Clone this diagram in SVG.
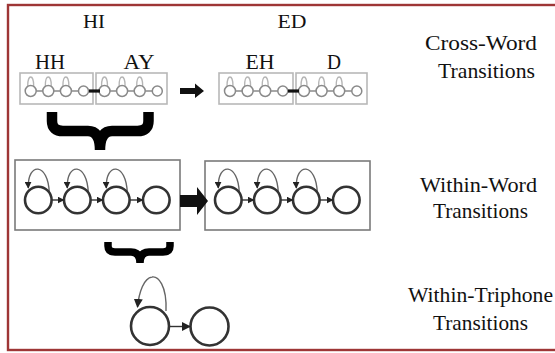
<svg xmlns="http://www.w3.org/2000/svg" xmlns:xlink="http://www.w3.org/1999/xlink" width="555" height="353" viewBox="0 0 555 353">
  <style>
    .lbl { fill: #111; text-anchor: middle; font-family: "Liberation Serif", "Times New Roman", serif; }
    .phone { font-size: 20px; }
    .word { font-size: 19px; }
    .side { font-size: 21px; }
    .minibox { fill: none; stroke: #b8b8b8; stroke-width: 1.6; }
    .minicirc { fill: none; stroke: #8a8a8a; stroke-width: 1.5; }
    .miniloop { fill: none; stroke: #b5b5b5; stroke-width: 1.3; }
    .minilink { stroke: #777; stroke-width: 1.3; }
    .hmmbox { fill: none; stroke: #7a7a7a; stroke-width: 1.6; }
    .state { fill: none; stroke: #333; stroke-width: 2.6; }
    .self { fill: none; stroke: #666; stroke-width: 1.4; }
    .link { stroke: #333; stroke-width: 1.4; }
    .brace { fill: none; stroke: #000; stroke-linejoin: round; }
  </style>
  <defs>
    <marker id="tip" viewBox="0 0 10 10" refX="9" refY="5" markerWidth="7" markerHeight="7" markerUnits="userSpaceOnUse" orient="auto">
      <path d="M0 0 L10 5 L0 10 Z" fill="#222"/>
    </marker>
    <marker id="tipL" viewBox="0 0 10 10" refX="9" refY="5" markerWidth="9" markerHeight="9" markerUnits="userSpaceOnUse" orient="auto">
      <path d="M0 0 L10 5 L0 10 Z" fill="#222"/>
    </marker>
    <!-- four-state mini phone model, first state centred at origin -->
    <g id="mini">
      <path class="miniloop" d="M3 -5 C3 -17, -3 -17, -3 -5 M20.6 -5 C20.6 -17, 14.6 -17, 14.6 -5 M38.2 -5 C38.2 -17, 32.2 -17, 32.2 -5"/>
      <line class="minilink" x1="5.5" y1="0" x2="12.1" y2="0"/>
      <line class="minilink" x1="23.1" y1="0" x2="29.7" y2="0"/>
      <line class="minilink" x1="40.7" y1="0" x2="47.8" y2="0"/>
      <circle class="minicirc" cx="0" cy="0" r="5.5"/>
      <circle class="minicirc" cx="17.6" cy="0" r="5.5"/>
      <circle class="minicirc" cx="35.2" cy="0" r="5.5"/>
      <circle class="minicirc" cx="52.8" cy="0" r="5"/>
    </g>
    <!-- emitting state with self-loop, centred at origin -->
    <g id="loopstate">
      <path class="self" d="M11 -7 C10 -38, -11 -38, -10 -12" marker-end="url(#tip)"/>
      <circle class="state" cx="0" cy="0" r="13.3"/>
    </g>
    <!-- four-state word-internal model; first state centred at origin -->
    <g id="hmm">
      <use xlink:href="#loopstate" x="0" y="0"/>
      <use xlink:href="#loopstate" x="39" y="0"/>
      <use xlink:href="#loopstate" x="78" y="0"/>
      <circle class="state" cx="118" cy="0" r="13.3"/>
      <line class="link" x1="13.5" y1="0" x2="25.5" y2="0" marker-end="url(#tip)"/>
      <line class="link" x1="52.5" y1="0" x2="64.5" y2="0" marker-end="url(#tip)"/>
      <line class="link" x1="91.5" y1="0" x2="104.5" y2="0" marker-end="url(#tip)"/>
    </g>
  </defs>

  <rect width="555" height="353" fill="#fff"/>
  <!-- frame -->
  <rect x="8" y="5" width="560" height="345" fill="none" stroke="#9e3636" stroke-width="2.4"/>

  <!-- cross-word level -->
  <g id="word-hi">
    <text class="lbl word" x="94" y="28" textLength="22" lengthAdjust="spacingAndGlyphs">HI</text>
    <text class="lbl phone" x="50" y="69" textLength="30" lengthAdjust="spacingAndGlyphs">HH</text>
    <text class="lbl phone" x="139" y="69" textLength="31" lengthAdjust="spacingAndGlyphs">AY</text>
    <rect class="minibox" x="20" y="73" width="73" height="31"/>
    <rect class="minibox" x="96" y="73" width="71" height="31"/>
    <use xlink:href="#mini" x="30.7" y="91"/>
    <use xlink:href="#mini" x="104.5" y="91"/>
    <line x1="89" y1="91" x2="100" y2="91" stroke="#111" stroke-width="3.2"/>
  </g>
  <g id="word-ed">
    <text class="lbl word" x="292" y="28" textLength="29" lengthAdjust="spacingAndGlyphs">ED</text>
    <text class="lbl phone" x="260" y="69" textLength="29" lengthAdjust="spacingAndGlyphs">EH</text>
    <text class="lbl phone" x="334" y="69" textLength="14" lengthAdjust="spacingAndGlyphs">D</text>
    <rect class="minibox" x="219" y="73" width="74" height="31"/>
    <rect class="minibox" x="296" y="73" width="71" height="31"/>
    <use xlink:href="#mini" x="230" y="91"/>
    <use xlink:href="#mini" x="304" y="91"/>
    <line x1="288" y1="91" x2="299" y2="91" stroke="#111" stroke-width="3.2"/>
  </g>

  <!-- within-word level -->
  <g id="hmm-hi">
    <rect class="hmmbox" x="15" y="160" width="165" height="70"/>
    <use xlink:href="#hmm" x="38.3" y="200"/>
  </g>
  <g id="hmm-ed">
    <rect class="hmmbox" x="205" y="161" width="165" height="69"/>
    <use xlink:href="#hmm" x="228.3" y="200"/>
  </g>

  <!-- within-triphone level -->
  <g id="triphone">
    <path class="self" d="M166 311 C167 285, 158 276, 152 277 C144 278, 139 292, 137.5 307" marker-end="url(#tipL)"/>
    <circle class="state" cx="150" cy="326" r="19"/>
    <circle class="state" cx="209.5" cy="326.5" r="19"/>
    <line class="link" x1="169" y1="326.5" x2="190" y2="326.5" marker-end="url(#tipL)"/>
  </g>

  <!-- level labels -->
  <g id="levels">
    <text class="lbl side" x="481" y="50" textLength="112" lengthAdjust="spacingAndGlyphs">Cross-Word</text>
    <text class="lbl side" x="486.5" y="78" textLength="97" lengthAdjust="spacingAndGlyphs">Transitions</text>
    <text class="lbl side" x="478.5" y="192" textLength="117" lengthAdjust="spacingAndGlyphs">Within-Word</text>
    <text class="lbl side" x="480.5" y="218" textLength="95" lengthAdjust="spacingAndGlyphs">Transitions</text>
    <text class="lbl side" x="480.5" y="302" textLength="145" lengthAdjust="spacingAndGlyphs">Within-Triphone</text>
    <text class="lbl side" x="480.5" y="330" textLength="95" lengthAdjust="spacingAndGlyphs">Transitions</text>
  </g>

  <!-- connectors between levels -->
  <g id="connectors">
    <polygon points="180,88 195,88 195,83.5 204,91 195,98 195,94 180,94" fill="#111"/>
    <polygon points="180,195 197,195 197,187 208,201 197,215 197,207 180,207" fill="#111"/>
    <path class="brace" stroke-width="10.5" d="M52 112 V121 Q52 131 63 131 H88 Q100 131 100 150 M148.5 112 V121 Q148.5 131 137.5 131 H112 Q100 131 100 150"/>
    <path class="brace" stroke-width="7.5" d="M108 242 V246 Q108 252 115 252 H131 Q140 252 140 263 M170 242 V246 Q170 252 163 252 H149 Q140 252 140 263"/>
  </g>
</svg>
